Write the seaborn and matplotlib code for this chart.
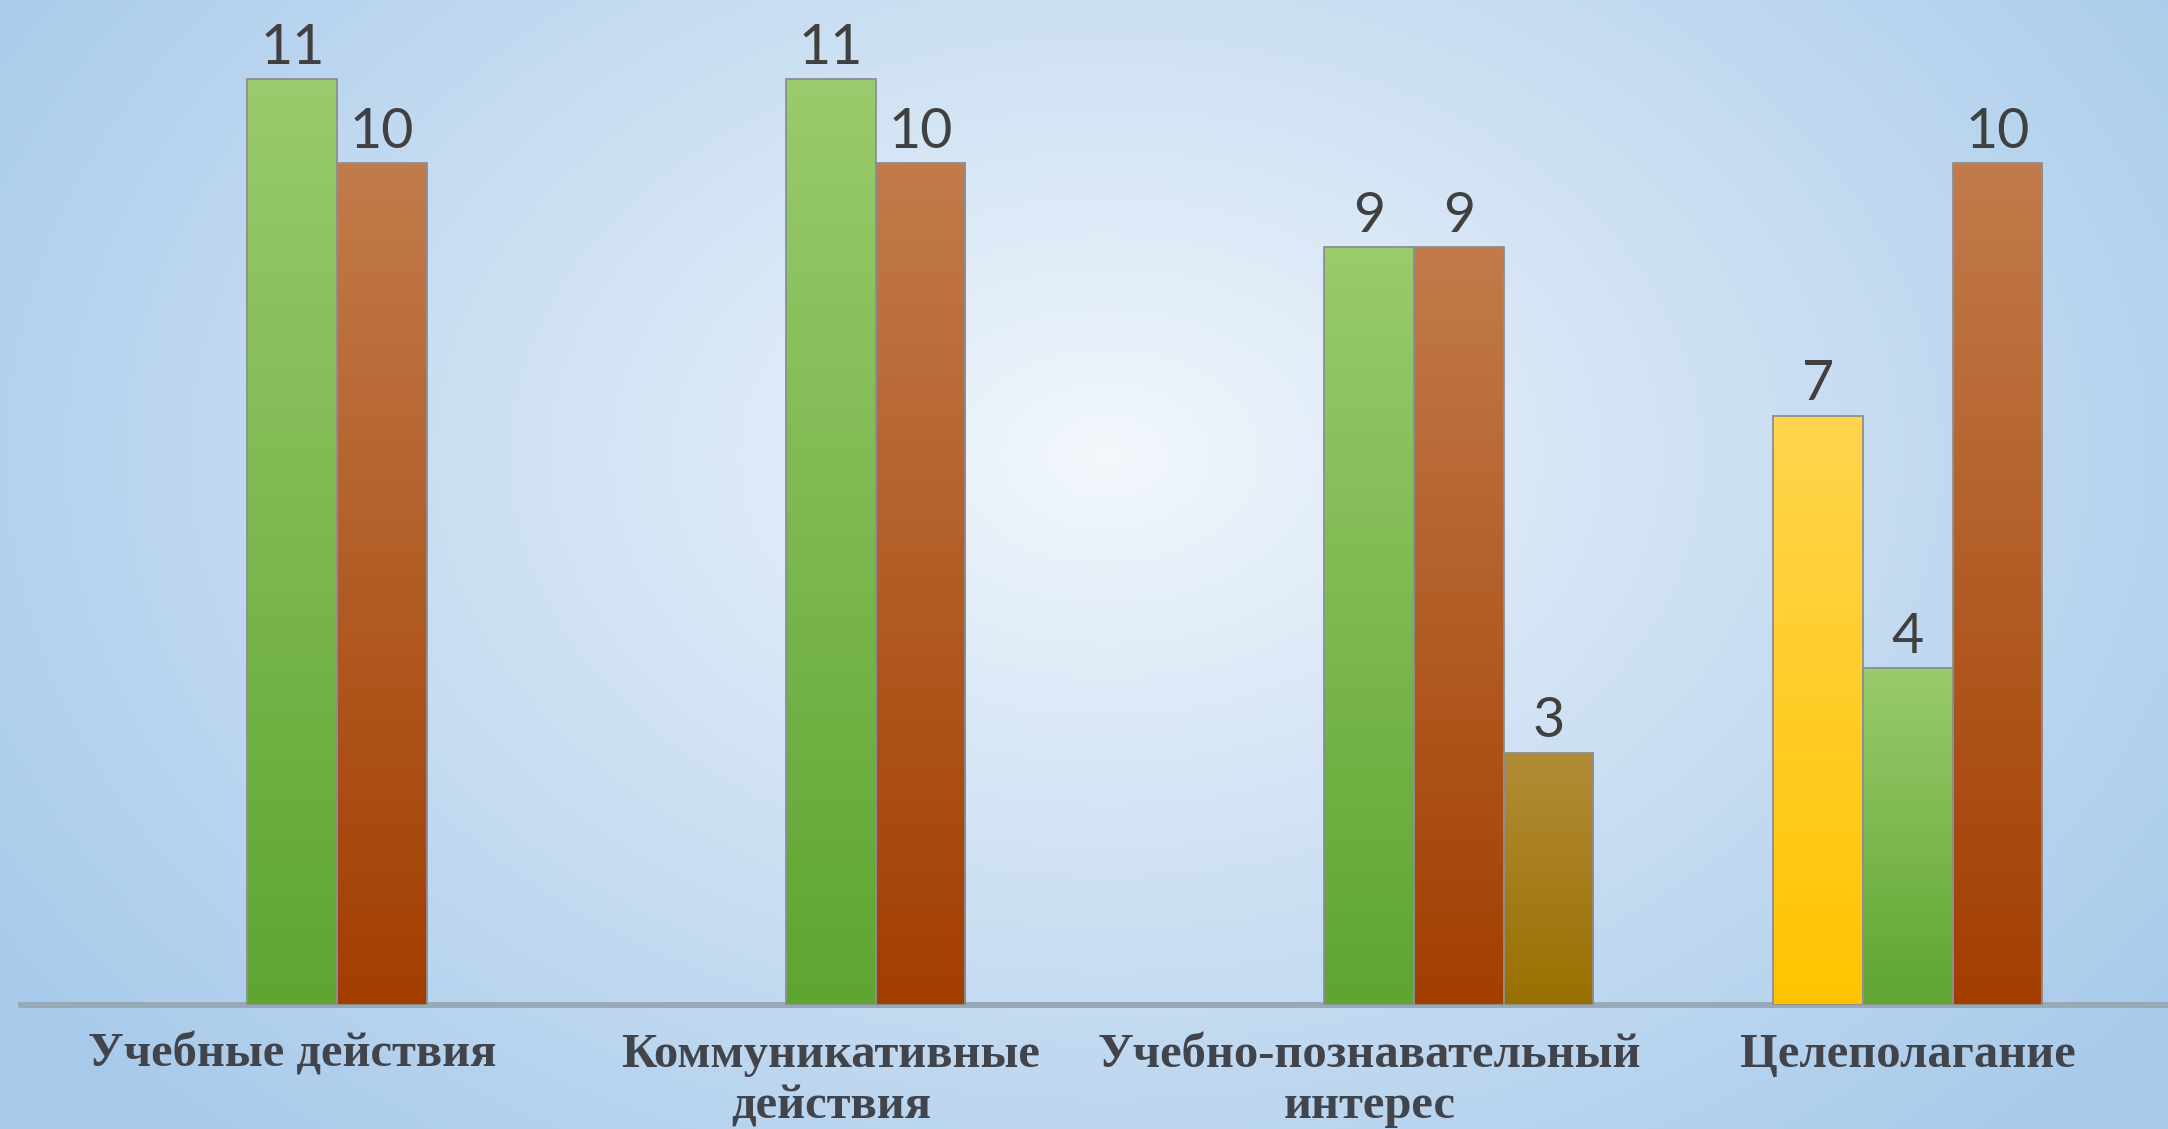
import numpy as np
import pandas as pd
import matplotlib.pyplot as plt
from matplotlib.colors import LinearSegmentedColormap, to_rgba
import seaborn as sns

categories = ['Учебные действия', 'Коммуникативные\nдействия',
              'Учебно-познавательный\nинтерес', 'Целеполагание']
series = ['Ряд 1', 'Ряд 2', 'Ряд 3', 'Ряд 4']
yellow_vals = [np.nan, np.nan, np.nan, 7]
green_vals = [11, 11, 9, 4]
brown_vals = [10, 10, 9, 10]
olive_vals = [np.nan, np.nan, 3, np.nan]

# base colour + (bottom, top) gradient for each series
base_cols = ['#FFC000', '#70AD47', '#A5470E', '#9E7400']
grad_cols = [('#FFC400', '#FFD54E'), ('#5EA532', '#9ACB6C'),
             ('#A23E00', '#C27B4B'), ('#987000', '#B38C38')]

rows = []
for s, vals in zip(series, [yellow_vals, green_vals, brown_vals, olive_vals]):
    for c, v in zip(categories, vals):
        if not np.isnan(v):
            rows.append({'cat': c, 'series': s, 'val': v})
df = pd.DataFrame(rows)

sns.set_theme(style='white')
plt.rcParams['font.family'] = ['Liberation Serif', 'DejaVu Sans']

fig = plt.figure(figsize=(21.68, 11.29), dpi=100)

# radial background
bg = fig.add_axes([0, 0, 1, 1], zorder=-10)
H, W = 1129, 2168
yy, xx = np.mgrid[0:H, 0:W]
r = np.sqrt(((xx - 1106) / 1350.0) ** 2 + ((yy - 456) / 950.0) ** 2)
r = np.clip(r, 0, 1) ** 0.9
c0 = np.array([0.955, 0.972, 0.99])
c1 = np.array([0.655, 0.79, 0.918])
img = c0[None, None, :] * (1 - r[..., None]) + c1[None, None, :] * r[..., None]
bg.imshow(img, aspect='auto', extent=[0, 1, 0, 1], origin='upper')
bg.axis('off')

ax = fig.add_axes([21 / 2168, 0.1098, 1 - 21 / 2168, 0.8902])
ax.set_facecolor('none')

slot = 0.1664
sns.barplot(data=df, x='cat', y='val', hue='series', order=categories,
            hue_order=series, palette=base_cols, width=slot * 4,
            dodge=True, legend=False, ax=ax, saturation=1)

xlim = (-0.587, 3.40)
ylim = (0, 11.94)

# gradient fills clipped to each bar
col_map = {tuple(np.round(to_rgba(c), 3)): i for i, c in enumerate(base_cols)}
for patch in list(ax.patches):
    if patch.get_height() <= 0:
        continue
    key = tuple(np.round(patch.get_facecolor(), 3))
    i = col_map.get(key)
    if i is None:
        continue
    cmap = LinearSegmentedColormap.from_list('g', list(grad_cols[i]))
    x0, y0 = patch.get_x(), patch.get_y()
    w, h = patch.get_width(), patch.get_height()
    im = ax.imshow(np.linspace(0, 1, 256).reshape(-1, 1), extent=[x0, x0 + w, y0, y0 + h],
                   origin='lower', cmap=cmap, aspect='auto', zorder=1.5)
    im.set_clip_path(patch)
    patch.set_facecolor('none')
    patch.set_edgecolor('#8A8F94')
    patch.set_linewidth(1.3)
    patch.set_zorder(2)

for cont in ax.containers:
    ax.bar_label(cont, fmt='%d', padding=4, fontsize=40, color='#404040',
                 family=['Lato', 'DejaVu Sans'])

ax.set_xlim(*xlim)
ax.set_ylim(*ylim)
ax.set_xticks(np.arange(len(categories)) - slot / 2)
ax.set_xticklabels(categories, fontsize=35, fontweight='bold', color='#42444C',
                   linespacing=1.22)
ax.tick_params(axis='x', length=0, pad=20)
ax.set_yticks([])
ax.set_xlabel('')
ax.set_ylabel('')
for s in ['top', 'right', 'left']:
    ax.spines[s].set_visible(False)
ax.spines['bottom'].set_color('#98A9B9')
ax.spines['bottom'].set_linewidth(4.3)
ax.spines['bottom'].set_zorder(1)

fig.savefig('out.png', dpi=100)
